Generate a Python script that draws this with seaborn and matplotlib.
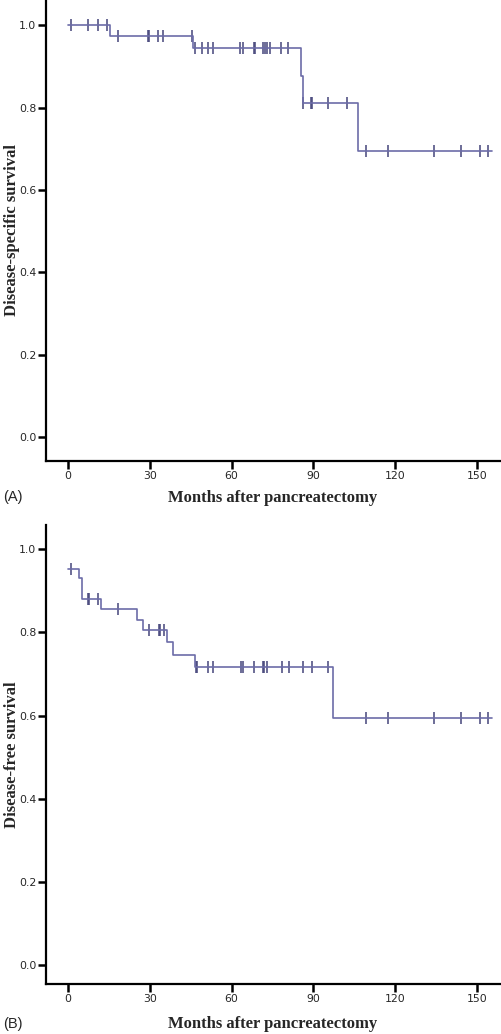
import matplotlib
matplotlib.use('Agg')
import matplotlib.pyplot as plt
import seaborn as sns
import pandas as pd
import numpy as np

# (A) disease-specific survival: step times (months) and survival level from that time on
times_a = [0, 15.4, 46.0, 85.3, 86.1, 106.2, 155.4]
surv_a = [1.0, 0.974, 0.944, 0.877, 0.810, 0.694, 0.694]
censor_a = [1.1, 7.4, 11.1, 14.2, 18.2, 29.2, 29.8, 33.1, 35.0, 45.5, 46.6, 49.0,
            51.5, 53.1, 63.1, 64.1, 68.2, 68.7, 71.4, 72.2, 73.1, 74.1, 78.0, 80.7,
            86.3, 89.1, 89.5, 95.2, 102.4, 109.3, 117.2, 134.2, 144.1, 151.1, 154.1]

# (B) disease-free survival
times_b = [0, 4.1, 5.0, 12.1, 25.2, 27.3, 36.4, 38.5, 46.6, 97.2, 155.4]
surv_b = [0.952, 0.930, 0.879, 0.857, 0.829, 0.805, 0.776, 0.746, 0.716, 0.595, 0.595]
censor_b = [1.1, 7.2, 7.5, 11.1, 18.2, 29.5, 33.2, 33.8, 35.3, 47.0, 47.3, 51.5,
            53.0, 63.4, 64.1, 68.2, 71.4, 71.9, 72.9, 78.6, 81.2, 86.3, 89.4, 95.3,
            109.3, 117.2, 134.2, 144.1, 151.1, 154.1]

x_ticks = [0, 30, 60, 90, 120, 150]
y_ticks = [0.0, 0.2, 0.4, 0.6, 0.8, 1.0]

sns.set_style('ticks')
plt.rcParams['font.family'] = ['DejaVu Sans']

line_col = '#6c6ca8'
mark_col = '#45457a'

fig = plt.figure(figsize=(5.02, 10.34), dpi=100)
W, H = 502, 1034


def km_panel(ax, times, surv, censor, ylabel, ylim):
    df = pd.DataFrame({'t': times, 's': surv})
    sns.lineplot(data=df, x='t', y='s', ax=ax, color=line_col, lw=1.2,
                 drawstyle='steps-post', estimator=None, sort=False)
    # survival level at each censored time
    idx = np.searchsorted(times, censor, side='right') - 1
    cdf = pd.DataFrame({'t': censor, 's': np.array(surv)[idx]})
    sns.scatterplot(data=cdf, x='t', y='s', ax=ax, marker='|', s=75,
                    color=mark_col, linewidth=1.1)
    ax.set_xlim(-8.1, 158.8)
    ax.set_ylim(*ylim)
    ax.set_xticks(x_ticks)
    ax.set_yticks(y_ticks)
    ax.set_yticklabels([f'{v:.1f}' for v in y_ticks])
    ax.tick_params(axis='both', direction='out', length=6, width=1.8,
                   labelsize=7.8, pad=1, color='black')
    for sp in ['top', 'right']:
        ax.spines[sp].set_visible(False)
    for sp in ['left', 'bottom']:
        ax.spines[sp].set_linewidth(1.6)
        ax.spines[sp].set_color('black')
    ax.set_ylabel(ylabel, family='Liberation Serif', fontweight='bold', fontsize=12)
    ax.yaxis.set_label_coords(-0.058, 0.5)
    ax.set_xlabel('Months after pancreatectomy', family='Liberation Serif',
                  fontweight='bold', fontsize=12)


# top panel: axes spans x 46..501 px, y 0..461 px
ax1 = fig.add_axes([46 / W, 1 - 461 / H, 455 / W, 461 / H])
km_panel(ax1, times_a, surv_a, censor_a, 'Disease-specific survival', (-0.058, 1.061))
ax1.xaxis.set_label_coords(0.497, -0.062)

# bottom panel: y 525..984 px
ax2 = fig.add_axes([46 / W, 1 - 984.3 / H, 455 / W, 459.3 / H])
km_panel(ax2, times_b, surv_b, censor_b, 'Disease-free survival', (-0.046, 1.058))
ax2.xaxis.set_label_coords(0.497, -0.070)

fig.text(3 / W, 1 - 497 / H, '(A)', family='Liberation Sans', fontsize=10.5, va='center')
fig.text(3 / W, 1 - 1024 / H, '(B)', family='Liberation Sans', fontsize=10.5, va='center')

fig.savefig('out.png', dpi=100)
